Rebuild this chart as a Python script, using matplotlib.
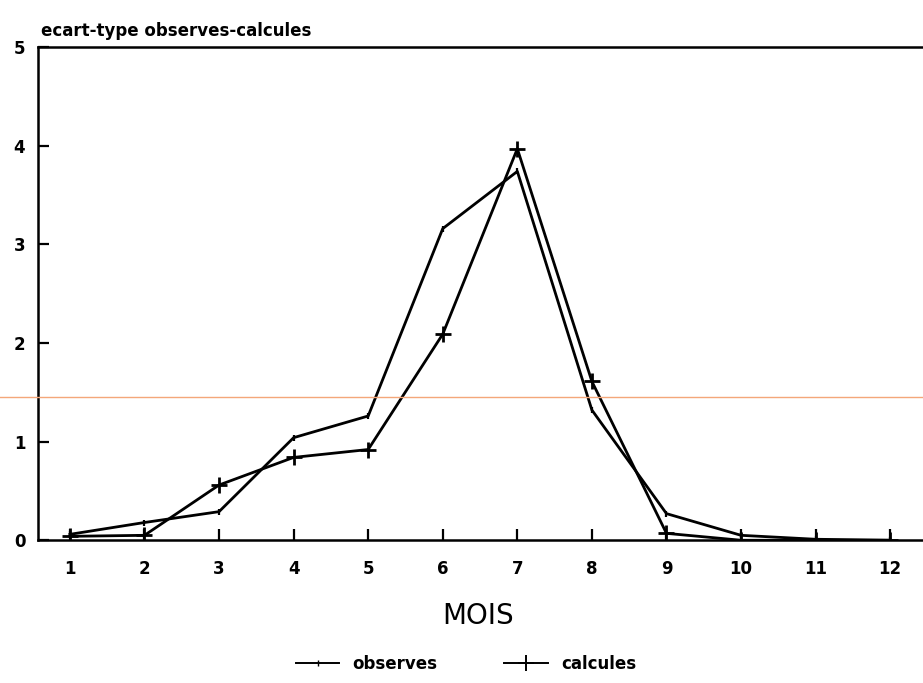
import matplotlib
matplotlib.use("Agg")
import matplotlib.pyplot as plt
from matplotlib.lines import Line2D

# values
mois = [1, 2, 3, 4, 5, 6, 7, 8, 9, 10, 11, 12]
observes = [0.06, 0.18, 0.29, 1.04, 1.26, 3.16, 3.74, 1.32, 0.27, 0.05, 0.01, 0.0]
calcules = [0.04, 0.05, 0.56, 0.84, 0.92, 2.09, 3.97, 1.61, 0.07, 0.0, 0.0, 0.0]
yticks = [0, 1, 2, 3, 4, 5]

plt.rcParams['font.family'] = ['DejaVu Sans']

fig = plt.figure(figsize=(9.23, 6.83), dpi=100)
ax = fig.add_axes([0.041, 0.209, 0.959, 0.722])

ax.plot(mois, observes, color="black", lw=2.0, marker="|", ms=5, mew=1.6,
        label="observes")
ax.plot(mois, calcules, color="black", lw=2.0, marker="+", ms=12, mew=2.0,
        label="calcules")

ax.set_xlim(0.57, 12.44)
ax.set_ylim(0, 5)
ax.set_xticks(mois)
ax.set_yticks(yticks)
ax.tick_params(direction="in", length=8, width=1.6, labelsize=12)
ax.tick_params(axis="x", pad=14)
ax.tick_params(axis="y", pad=9)
for lab in ax.get_xticklabels() + ax.get_yticklabels():
    lab.set_fontweight("bold")
ax.spines["right"].set_visible(False)
for s in ["left", "top", "bottom"]:
    ax.spines[s].set_linewidth(1.8)

fig.text(0.044, 0.955, "ecart-type observes-calcules", fontsize=12,
         fontweight="bold", va="center", ha="left")
fig.text(0.518, 0.098, "MOIS", fontsize=20, ha="center", va="center")

# faint orange line left by the scanner
fig.add_artist(Line2D([0, 1], [1 - 397 / 683, 1 - 397 / 683], color="#f4a77a",
                      lw=1.0, transform=fig.transFigure))

handles = [Line2D([], [], color="black", lw=1.4, marker="|", ms=4),
           Line2D([], [], color="black", lw=1.4, marker="+", ms=11, mew=1.4)]
leg = fig.legend(handles, ["observes", "calcules"], loc="center",
                 bbox_to_anchor=(0.505, 0.028), ncol=2, frameon=False,
                 fontsize=12, handlelength=2.6, columnspacing=4.0)
for t in leg.get_texts():
    t.set_fontweight("bold")

fig.savefig("out.png", dpi=100)
